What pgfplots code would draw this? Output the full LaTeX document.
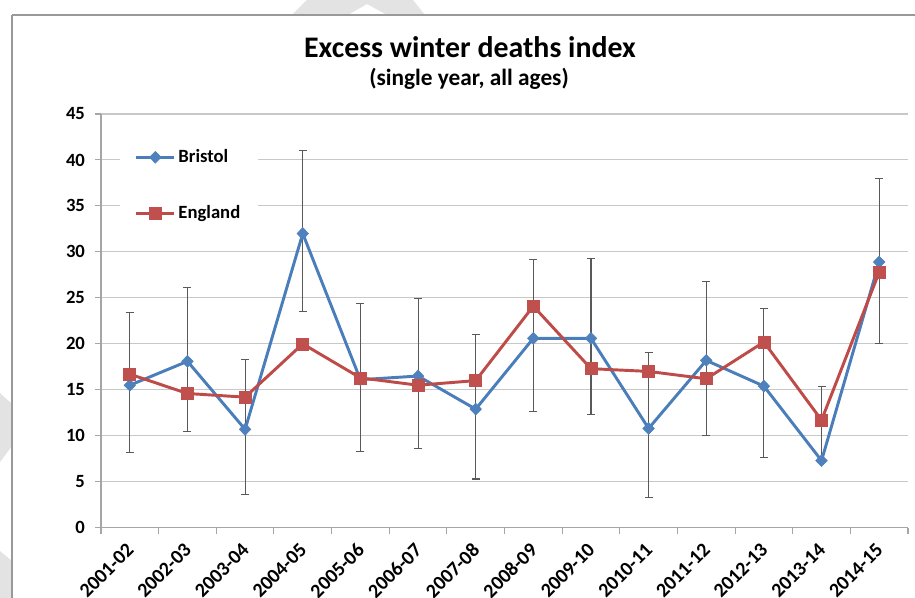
\documentclass[border=0pt]{standalone}
\usepackage{fontspec}
\setmainfont{Carlito}
\usepackage{pgfplots}
\pgfplotsset{compat=1.18}
\definecolor{bline}{HTML}{4A7EBB}
\definecolor{bmark}{HTML}{4F81BD}
\definecolor{eline}{HTML}{BE4B48}
\definecolor{emark}{HTML}{C0504D}
\definecolor{gridc}{HTML}{C8C8C8}
\definecolor{errc}{HTML}{595959}

\begin{document}
\begin{tikzpicture}
\begin{scope}[x=0.75pt,y=0.75pt]
% faint marks left over from the scanned page
\fill[gray!22] (292,583) -- (307,598) -- (413,598) -- (425,583) -- (387,583) -- (367,594) -- (348,583) -- cycle;
\fill[gray!22] (0,205) -- (12,194) -- (12,152) -- (0,136) -- cycle;
\fill[gray!22] (0,47) -- (12,37) -- (12,0) -- (0,0) -- cycle;
% chart frame
\draw[gray!80, line width=0.8pt] (12,0) -- (12,583);
\draw[gray!80, line width=1.3pt] (12,583) -- (915,583);

\node[font=\bfseries\fontsize{22.4}{26}\selectfont] at (470,551) {Excess winter deaths index};
\node[font=\bfseries\fontsize{17.5}{20}\selectfont] at (469,519) {(single year, all ages)};
\end{scope}

\begin{axis}[
    at={(75.75pt,52.7pt)}, anchor=south west,
    width=605.25pt, height=310.3pt, scale only axis,
    xmin=-0.5, xmax=13.5,
    ymin=0, ymax=45,
    ytick={0,5,...,45},
    xtick={-0.5,0.5,...,13.5},
    xticklabels={},
    extra x ticks={0,1,...,13},
    extra x tick labels={2001-02,2002-03,2003-04,2004-05,2005-06,2006-07,2007-08,2008-09,2009-10,2010-11,2011-12,2012-13,2013-14,2014-15},
    extra x tick style={major tick length=0pt, grid=none},
    ymajorgrids, grid style={gridc, line width=0.8pt},
    axis x line*=bottom, axis y line*=left,
    axis line style={gray!70, line width=0.8pt},
    tick style={gray!70, line width=0.8pt},
    tick align=outside, major tick length=4.5pt,
    /pgf/number format/assume math mode=true,
    yticklabel style={font=\bfseries\fontsize{14}{16}\selectfont, xshift=-4pt},
    xticklabel style={font=\bfseries\fontsize{15}{17}\selectfont, rotate=45, anchor=east, xshift=-6.5pt, yshift=-10.4pt},
    legend style={at={(0.0235,0.94)}, anchor=north west, draw=none, fill=white,
        font=\bfseries\fontsize{14}{16}\selectfont, row sep=26.5pt, inner xsep=11pt, inner ysep=6pt},
    legend cell align=left,
    legend image code/.code={\draw[mark repeat=2, mark phase=2] plot coordinates {(0cm,0cm) (0.5cm,0cm) (1cm,0cm)};},
]
\addplot[bline, line width=2.2pt, mark=diamond*, mark size=4.4pt,
    mark options={fill=bmark, draw=bmark, line width=0.5pt, xscale=1.3}]
    coordinates {(0,15.5) (1,18.1) (2,10.7) (3,32.0) (4,16.1) (5,16.5) (6,12.9)
                 (7,20.6) (8,20.6) (9,10.8) (10,18.2) (11,15.4) (12,7.3) (13,28.9)};
\addlegendentry{Bristol}
\addplot[eline, line width=2.2pt, mark=square*, mark size=4.5pt,
    mark options={fill=emark, draw=emark, line width=0.5pt}]
    coordinates {(0,16.7) (1,14.6) (2,14.2) (3,20.0) (4,16.3) (5,15.5) (6,16.0)
                 (7,24.1) (8,17.3) (9,17.0) (10,16.2) (11,20.2) (12,11.7) (13,27.8)};
\addlegendentry{England}
% Bristol confidence intervals
\addplot[draw=none, no markers, forget plot,
    error bars/.cd, y dir=both, y explicit,
    error bar style={draw=errc, line width=0.8pt},
    error mark options={rotate=90, draw=errc, mark size=3pt, line width=0.8pt}]
    coordinates {(0,15.5) += (0,7.9) -= (0,7.3)
                 (1,18.1) += (0,8.0) -= (0,7.6)
                 (2,10.7) += (0,7.6) -= (0,7.1)
                 (3,32.0) += (0,9.0) -= (0,8.5)
                 (4,16.1) += (0,8.3) -= (0,7.8)
                 (5,16.5) += (0,8.4) -= (0,7.9)
                 (6,12.9) += (0,8.1) -= (0,7.6)
                 (7,20.6) += (0,8.6) -= (0,8.0)
                 (8,20.6) += (0,8.7) -= (0,8.3)
                 (9,10.8) += (0,8.3) -= (0,7.5)
                 (10,18.2) += (0,8.6) -= (0,8.2)
                 (11,15.4) += (0,8.4) -= (0,7.8)
                 (12,7.3) += (0,8.1) -= (0,0)
                 (13,28.9) += (0,9.1) -= (0,8.9)};
\end{axis}
\pgfresetboundingbox
\path[use as bounding box] (0,0) rectangle (686.25pt,448.5pt);
\end{tikzpicture}
\end{document}
